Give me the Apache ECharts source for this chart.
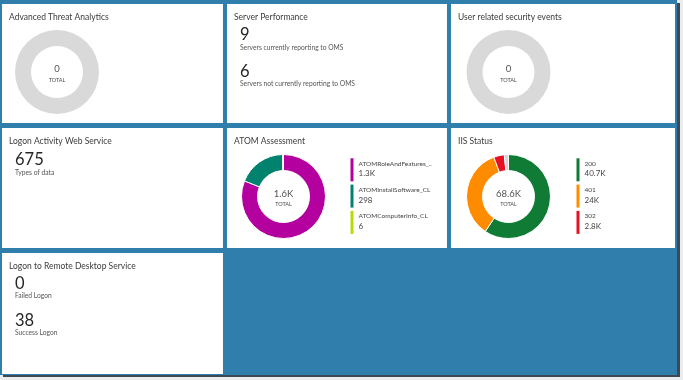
<!DOCTYPE html>
<html><head><meta charset="utf-8">
<script src="https://cdn.jsdelivr.net/npm/echarts@6/dist/echarts.min.js"></script>
<style>html,body{margin:0;padding:0;background:#ececec;}#c{width:683px;height:380px;}</style>
</head><body><div id="c"></div>
<script>
// ---- data ----
var ataNames = ['none'];
var ataValues = [0];
var userSecNames = ['none'];
var userSecValues = [0];
var serverCounts = [9, 6];
var serverLabels = ['Servers currently reporting to OMS', 'Servers not currently reporting to OMS'];
var logonWebCount = [675];
var logonWebLabels = ['Types of data'];
var atomNames = ['ATOMRoleAndFeatures_..', 'ATOMInstallSoftware_CL', 'ATOMComputerInfo_CL'];
var atomValues = [1300, 298, 6];
var iisNames = ['200', '401', '302', 'other'];
var iisValues = [40700, 24000, 2800, 1100];
var rdpCounts = [0, 38];
var rdpLabels = ['Failed Logon', 'Success Logon'];
var tileTitles = ['Advanced Threat Analytics', 'Server Performance', 'User related security events',
  'Logon Activity Web Service', 'ATOM Assessment', 'IIS Status', 'Logon to Remote Desktop Service'];

var atomColors = ['#b4009e', '#00826f', '#bad80a'];
var iisColors = ['#0f7b35', '#ff8c00', '#e81123', '#d6d6d6'];

function fmt(v) {
  if (v >= 1000) { var s = (v / 1000).toFixed(1); if (s.slice(-2) === '.0') s = s.slice(0, -2); return s + 'K'; }
  return String(v);
}
function sum(a) { return a.reduce(function (x, y) { return x + y; }, 0); }

var FONT = 'Lato, "Open Sans", sans-serif';
var TITLE_COLOR = '#3b3b3b';
var g = [];
// frame + shadow
g.push({ type: 'rect', shape: { x: 3, y: 3, width: 677, height: 374 }, style: { fill: '#3b4a54' }, z: 0 });
g.push({ type: 'rect', shape: { x: 0, y: 0, width: 677, height: 375 }, style: { fill: '#2f7eab' }, z: 1 });
// tiles
var cols = [[2, 221], [227, 220], [451, 224]];
var rows = [[4, 119], [128, 120], [253, 121]];
var tiles = [[0,0],[1,0],[2,0],[0,1],[1,1],[2,1],[0,2]];
tiles.forEach(function (t, i) {
  var c = cols[t[0]], r = rows[t[1]];
  g.push({ type: 'rect', shape: { x: c[0], y: r[0], width: c[1], height: r[1] }, style: { fill: '#ffffff' }, z: 2 });
  g.push({ type: 'text', x: c[0] + 7, y: r[0] + 13.5, z: 3,
    style: { text: tileTitles[i], font: '8.5px ' + FONT, fill: TITLE_COLOR, textVerticalAlign: 'middle' } });
});
function txt(x, y, s, size, color, align) {
  g.push({ type: 'text', x: x, y: y, z: 4,
    style: { text: s, font: size + 'px ' + FONT, fill: color, textAlign: align || 'left', textVerticalAlign: 'middle' } });
}
function bigStat(x, y, val, label) {
  txt(x, y, String(val), 16.5, '#262626');
  txt(x, y + 12.5, label, 6.7, '#555555');
}
// Server Performance
bigStat(240, 35, serverCounts[0], serverLabels[0]);
bigStat(240, 71.5, serverCounts[1], serverLabels[1]);
// Logon Activity Web Service
bigStat(15, 160, logonWebCount[0], logonWebLabels[0]);
// RDP
bigStat(15, 283.5, rdpCounts[0], rdpLabels[0]);
bigStat(15, 320.5, rdpCounts[1], rdpLabels[1]);

// donut centers text
function centerText(cx, cy, total) {
  txt(cx, cy - 3, fmt(total), 9.5, '#555555', 'center');
  txt(cx, cy + 8, 'TOTAL', 5.5, '#4a4a4a', 'center');
}
centerText(57, 72, sum(ataValues));
centerText(508.5, 72, sum(userSecValues));
centerText(283.5, 196.5, sum(atomValues));
centerText(508.5, 196.5, sum(iisValues));

// legends
function legend(x, y0, names, values, colors, n, nameSize) {
  for (var i = 0; i < n; i++) {
    var y = y0 + i * 26.3;
    g.push({ type: 'rect', shape: { x: x, y: y, width: 3, height: 23 }, style: { fill: colors[i] }, z: 4 });
    txt(x + 8, y + 5.5, names[i], nameSize, '#444444');
    txt(x + 8, y + 15.5, fmt(values[i]), 8, '#444444');
  }
}
legend(350.5, 158.3, atomNames, atomValues, atomColors, 3, 6.5);
legend(576.5, 158.3, iisNames, iisValues, iisColors, 3, 6.5);

function donut(cx, cy, names, values, colors, border) {
  return {
    type: 'pie', center: [cx, cy], radius: [26, 42], startAngle: 90, clockwise: true,
    stillShowZeroSum: true, silent: true, animation: false,
    label: { show: false }, labelLine: { show: false },
    itemStyle: { borderColor: '#ffffff', borderWidth: border },
    data: names.map(function (n, i) { return { name: n, value: values[i], itemStyle: { color: colors[i] } }; })
  };
}

var chart = echarts.init(document.getElementById('c'), null, { renderer: 'canvas' });
chart.setOption({
  animation: false,
  backgroundColor: '#ececec',
  graphic: { elements: g },
  series: [
    donut(57, 72, ataNames, ataValues, ['#d9d9d9'], 0),
    donut(508.5, 72, userSecNames, userSecValues, ['#d9d9d9'], 0),
    donut(283.5, 196.5, atomNames, atomValues, atomColors, 1),
    donut(508.5, 196.5, iisNames, iisValues, iisColors, 1)
  ]
});
</script></body></html>
